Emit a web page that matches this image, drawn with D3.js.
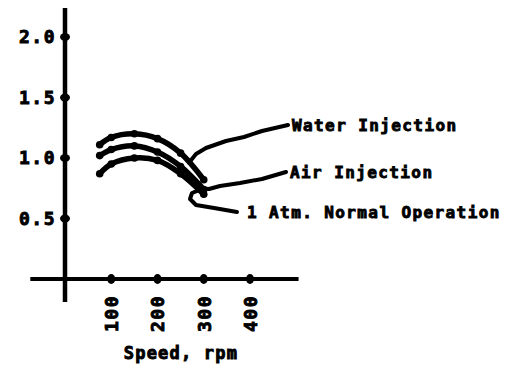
<!DOCTYPE html>
<html>
<head>
<meta charset="utf-8">
<script src="https://cdn.jsdelivr.net/npm/d3@7/dist/d3.min.js"></script>
<style>
  html, body { margin: 0; padding: 0; background: #fff; }
  svg { display: block; }
  text { font-family: "DejaVu Sans Mono", "Liberation Mono", monospace; font-weight: bold; fill: #000; stroke: #000; stroke-width: 0.9px; }
</style>
</head>
<body>
<svg id="chart" width="515" height="368"></svg>
<script>
// Speed (rpm) at which each curve was measured
const speeds = [75, 100, 150, 200, 250, 300];

// Relative output for each operating mode
const waterInjection = [1.11, 1.17, 1.20, 1.16, 1.04, 0.82];
const airInjection   = [1.02, 1.07, 1.10, 1.05, 0.93, 0.74];
const normalOp       = [0.87, 0.95, 1.00, 0.98, 0.87, 0.70];

const seriesNames = ["Water Injection", "Air Injection", "1 Atm. Normal Operation"];

// Axis ticks
const xTicks = [100, 200, 300, 400];
const yTicks = [0.5, 1.0, 1.5, 2.0];
const xTitle = "Speed, rpm";

const svg = d3.select("#chart");

const x = d3.scaleLinear().domain([0, 400]).range([65, 250]);
const y = d3.scaleLinear().domain([0, 2]).range([279, 37]);

// Axis lines run past the plotted range
const xLineExtent = [-75, 505];
const yLineExtent = [-0.19, 2.24];

const axisG = svg.append("g");
axisG.append("line")
  .attr("x1", x(xLineExtent[0])).attr("x2", x(xLineExtent[1]))
  .attr("y1", y(0)).attr("y2", y(0))
  .attr("stroke", "#000").attr("stroke-width", 4);
axisG.append("line")
  .attr("x1", x(0)).attr("x2", x(0))
  .attr("y1", y(yLineExtent[0])).attr("y2", y(yLineExtent[1]))
  .attr("stroke", "#000").attr("stroke-width", 4.5);

// Tick marks drawn as beads on the axes
axisG.selectAll(".ydot").data(yTicks).join("ellipse")
  .attr("cx", x(0)).attr("cy", d => y(d))
  .attr("rx", 5).attr("ry", 4).attr("fill", "#000");
axisG.selectAll(".xdot").data(xTicks).join("ellipse")
  .attr("cx", d => x(d)).attr("cy", y(0))
  .attr("rx", 4).attr("ry", 5).attr("fill", "#000");

// Y tick labels
const yAxis = d3.axisLeft(y).tickValues(yTicks).tickSize(0).tickPadding(9)
  .tickFormat(d3.format(".1f"));
const yG = svg.append("g").attr("transform", `translate(${x(0)},0)`).call(yAxis);
yG.select(".domain").remove();
yG.selectAll("text")
  .style("font-family", "'DejaVu Sans Mono', monospace")
  .style("font-weight", "bold")
  .style("font-size", "18px")
  .style("letter-spacing", "1.5px")
  .attr("fill", "#000");

// X tick labels, rotated to read upward
const xAxis = d3.axisBottom(x).tickValues(xTicks).tickSize(0).tickFormat(d3.format("d"));
const xG = svg.append("g").attr("transform", `translate(0,${y(0)})`).call(xAxis);
xG.select(".domain").remove();
xG.selectAll("text")
  .style("font-family", "'DejaVu Sans Mono', monospace")
  .style("font-weight", "bold")
  .style("font-size", "18px")
  .style("letter-spacing", "1.5px")
  .attr("fill", "#000")
  .attr("text-anchor", "end")
  .attr("dy", "0.35em")
  .attr("y", 0)
  .attr("transform", "translate(0,16) rotate(-90)");

svg.append("text")
  .attr("x", 181).attr("y", 359)
  .attr("text-anchor", "middle")
  .style("font-size", "17px")
  .style("letter-spacing", "1.2px")
  .text(xTitle);

// Performance curves
const allSeries = [waterInjection, airInjection, normalOp];
const line = d3.line()
  .x((d, i) => x(speeds[i]))
  .y(d => y(d))
  .curve(d3.curveCatmullRom.alpha(0.5));

const curvesG = svg.append("g");
allSeries.forEach(vals => {
  curvesG.append("path")
    .attr("d", line(vals))
    .attr("fill", "none")
    .attr("stroke", "#000")
    .attr("stroke-width", 5.5)
    .attr("stroke-linecap", "round")
    .attr("stroke-linejoin", "round");
  curvesG.selectAll(null).data(vals).join("circle")
    .attr("cx", (d, i) => x(speeds[i]))
    .attr("cy", d => y(d))
    .attr("r", 3.8)
    .attr("fill", "#000");
});

// Annotation labels with hand-drawn leader lines to each curve
const labelPos = [
  { x: 292, y: 125, speed: 268, bends: [[262, 131], [244, 137], [226, 141], [206, 148], [196, 154]] },
  { x: 290, y: 172, speed: 298, bends: [[262, 179], [240, 183], [220, 186], [209, 189]] },
  { x: 247, y: 212, speed: 290, bends: [[237, 212], [214, 208], [196, 205], [190, 199], [192, 193]] }
];

function valueAt(vals, s) {
  const i = d3.bisectRight(speeds, s) - 1;
  const j = Math.min(i + 1, speeds.length - 1);
  if (i === j) return vals[i];
  const t = (s - speeds[i]) / (speeds[j] - speeds[i]);
  return vals[i] + t * (vals[j] - vals[i]);
}

const leaderLine = d3.line().curve(d3.curveLinear);
labelPos.forEach((lp, k) => {
  const start = k === 2 ? [] : [[lp.x - 4, lp.y]];
  const anchor = [x(lp.speed), y(valueAt(allSeries[k], lp.speed))];
  const pts = start.concat(lp.bends, [anchor]);
  svg.append("path")
    .attr("d", leaderLine(pts))
    .attr("fill", "none")
    .attr("stroke", "#000")
    .attr("stroke-width", 4)
    .attr("stroke-linecap", "round")
    .attr("stroke-linejoin", "round");
  svg.append("text")
    .attr("x", lp.x).attr("y", lp.y)
    .attr("dy", "0.35em")
    .style("font-size", "16px")
    .style("letter-spacing", "1.4px")
    .text(seriesNames[k]);
});
</script>
</body>
</html>
